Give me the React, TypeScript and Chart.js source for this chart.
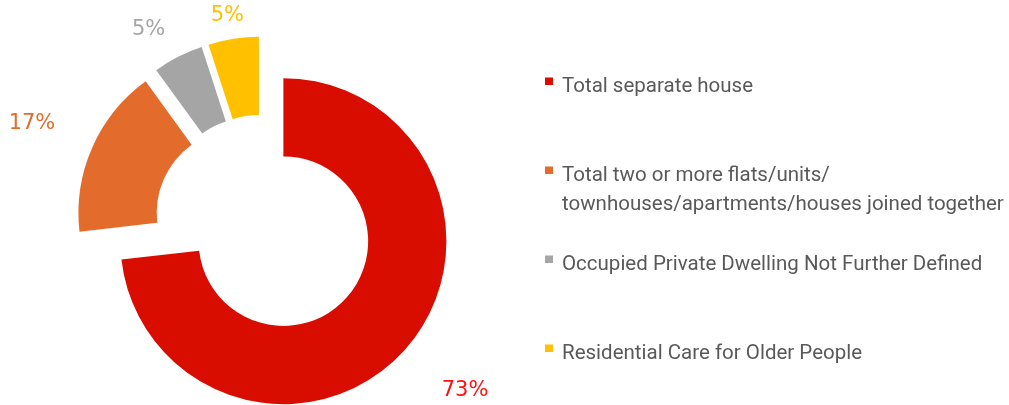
import React, { useEffect, useRef } from "react";
import { Chart, registerables } from "chart.js";

Chart.register(...registerables);

const categories: string[][] = [
  ["Total separate house"],
  ["Total two or more flats/units/", "townhouses/apartments/houses joined together"],
  ["Occupied Private Dwelling Not Further Defined"],
  ["Residential Care for Older People"],
];
const shares: number[] = [73.2, 16.8, 5.0, 5.0];
const sliceColors: string[] = ["#D90C00", "#E36C2C", "#A5A5A5", "#FFC000"];
const labelColors: string[] = ["#FF1010", "#E36C2C", "#A5A5A5", "#FFC000"];

// style: explosion distance of each slice, label gap beyond the outer edge, label angle tweak (deg)
const explode = [28, 23, 23, 23];
const labelGap = [72, 65, 38, 24];
const labelTurn = [-2.4, -0.5, -4, -0.7];

const FONT = "Roboto, 'Liberation Sans', sans-serif";
const LABEL_FONT = "'DejaVu Sans', sans-serif";

const explodePlugin = {
  id: "explodeSlices",
  afterDatasetsUpdate(chart: any) {
    const area = chart.chartArea;
    const cx = (area.left + area.right) / 2;
    const cy = (area.top + area.bottom) / 2;
    const meta = chart.getDatasetMeta(0);
    meta.data.forEach((el: any, i: number) => {
      const mid = (el.startAngle + el.endAngle) / 2;
      el.x = cx + Math.cos(mid) * explode[i];
      el.y = cy + Math.sin(mid) * explode[i];
    });
  },
};

const labelPlugin = {
  id: "outerLabels",
  afterDatasetsDraw(chart: any) {
    const ctx = chart.ctx;
    const meta = chart.getDatasetMeta(0);
    const total = shares.reduce((a, b) => a + b, 0);
    ctx.save();
    ctx.font = `21px ${LABEL_FONT}`;
    ctx.textAlign = "center";
    ctx.textBaseline = "middle";
    meta.data.forEach((el: any, i: number) => {
      const mid = (el.startAngle + el.endAngle) / 2 + (labelTurn[i] * Math.PI) / 180;
      const r = el.outerRadius + labelGap[i];
      const x = el.x + Math.cos(mid) * r;
      const y = el.y + Math.sin(mid) * r;
      ctx.fillStyle = labelColors[i];
      ctx.fillText(`${Math.round((shares[i] / total) * 100)}%`, x, y);
    });
    ctx.restore();
  },
};

const legendPlugin = {
  id: "sideLegend",
  afterDraw(chart: any) {
    const ctx = chart.ctx;
    const left = 545;
    const firstBaseline = 92;
    const step = 89;
    const lineH = 29;
    ctx.save();
    ctx.font = `20.5px ${FONT}`;
    ctx.textAlign = "left";
    ctx.textBaseline = "alphabetic";
    categories.forEach((lines, i) => {
      const base = firstBaseline + step * i;
      ctx.fillStyle = sliceColors[i];
      ctx.fillRect(left, base - 14.5, 8, 7.5);
      ctx.fillStyle = "#595959";
      lines.forEach((t, j) => ctx.fillText(t, left + 17, base + j * lineH));
    });
    ctx.restore();
  },
};

export default function App() {
  const ref = useRef<HTMLCanvasElement | null>(null);
  useEffect(() => {
    if (!ref.current) return;
    const chart = new Chart(ref.current, {
      type: "doughnut",
      data: {
        labels: categories.map((c) => c.join(" ")),
        datasets: [
          {
            data: shares,
            backgroundColor: sliceColors,
            borderWidth: 0,
            clip: false as any,
          },
        ],
      },
      options: {
        responsive: false,
        animation: false,
        events: [],
        cutout: "52%",
        radius: 163,
        layout: { padding: { top: 40, bottom: 0, left: 0, right: 484 } },
        plugins: {
          legend: { display: false },
          tooltip: { enabled: false },
          title: { display: false },
        },
      },
      plugins: [explodePlugin, labelPlugin, legendPlugin],
    });
    return () => chart.destroy();
  }, []);
  return (
    <div style={{ position: "absolute", left: 0, top: 0, width: 1009, height: 405, background: "#fff" }}>
      <canvas ref={ref} width={1009} height={405} style={{ display: "block" }} />
    </div>
  );
}
